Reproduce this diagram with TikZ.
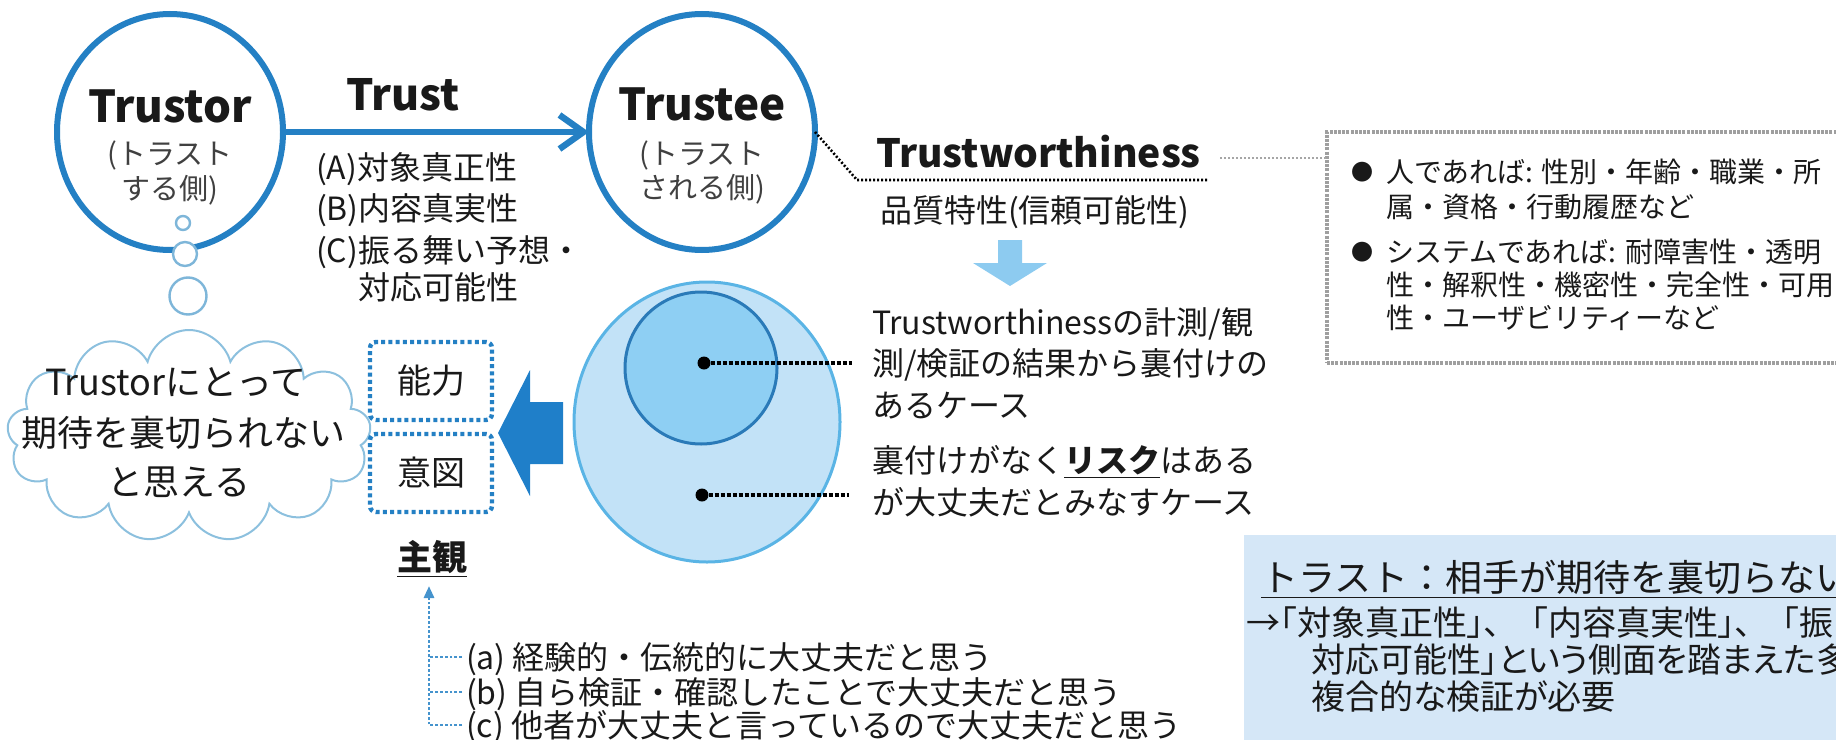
\documentclass[tikz,border=0pt]{standalone}
\usepackage{fontspec}
\setmainfont{Noto Sans CJK JP}
\newfontfamily\jpprop{Noto Sans CJK JP}[RawFeature=+palt]
\usetikzlibrary{shapes.symbols,shapes.geometric,arrows.meta}
\definecolor{dblue}{RGB}{36,128,196}
\definecolor{bubblec}{RGB}{126,182,217}
\definecolor{cloudc}{RGB}{140,192,222}
\definecolor{lblue}{RGB}{141,203,240}
\definecolor{outerfill}{RGB}{194,226,247}
\definecolor{outerdraw}{RGB}{90,180,229}
\definecolor{innerfill}{RGB}{142,207,243}
\definecolor{innerdraw}{RGB}{42,122,184}
\definecolor{bigarrow}{RGB}{31,127,201}
\definecolor{boxfill}{RGB}{213,231,247}
\definecolor{txt}{RGB}{25,25,25}
\definecolor{subtxt}{RGB}{64,64,64}
\begin{document}
\tikzset{
  every node/.style={inner sep=0pt, outer sep=0pt, text=txt},
  fs/.code={\pgfmathsetmacro\fsh{0.88*#1}\pgfmathsetmacro\fsd{0.12*#1}%
    \edef\fstmp{\noexpand\tikzset{font=\noexpand\fontsize{#1}{#1}\noexpand\selectfont, text height=\fsh pt, text depth=\fsd pt}}\fstmp},
  fsp/.code={\pgfmathsetmacro\fsh{0.88*#1}\pgfmathsetmacro\fsd{0.12*#1}%
    \edef\fstmp{\noexpand\tikzset{font=\noexpand\jpprop\noexpand\fontsize{#1}{#1}\noexpand\selectfont, text height=\fsh pt, text depth=\fsd pt}}\fstmp},
  fsb/.code={\pgfmathsetmacro\fsh{0.88*#1}\pgfmathsetmacro\fsd{0.12*#1}%
    \edef\fstmp{\noexpand\tikzset{font=\noexpand\fontsize{#1}{#1}\noexpand\selectfont\noexpand\bfseries, text height=\fsh pt, text depth=\fsd pt}}\fstmp},
  title/.style={font=\fontsize{22}{22}\selectfont\bfseries, anchor=base},
  actor/.style={ellipse, draw=dblue, line width=3pt, fill=white, minimum width=113pt, minimum height=118pt},
  bubble/.style={circle, draw=bubblec, line width=1.2pt, fill=white, minimum size=#1},
  capbox/.style={draw=dblue, line width=2.2pt, dash pattern=on 2pt off 1.6pt, rounded corners=3pt, fill=white, minimum width=61pt, minimum height=39pt, fs=17},
  leader/.style={draw=black, line width=1.6pt, dash pattern=on 2pt off 1pt},
  thindot/.style={draw=black, line width=1.3pt, dash pattern=on 1pt off 1pt},
  greydot/.style={draw=gray!70, line width=1.2pt, dash pattern=on 1pt off 1pt},
  greybox/.style={draw=gray!75, line width=2.2pt, dash pattern=on 1.5pt off 0.6pt},
  subline/.style={draw=dblue!85, line width=1.4pt, dash pattern=on 1.4pt off 1pt},
  dotmark/.style={circle, fill=black, minimum size=6.5pt},
}
\begin{tikzpicture}[x=0.5pt,y=-0.5pt]
\useasboundingbox (0,0) rectangle (1836,739);
\clip (0,0) rectangle (1836,739);

% ---- Trustor / Trustee
\node[actor] (trustor) at (170,132) {};
\node[actor] (trustee) at (702,132) {};
\node[title] (trustorT) at (170,122) {Trustor};
\node[fs=14.5, text=subtxt] (trustorS1) at (170,153) {(トラスト};
\node[fs=14.5, text=subtxt] (trustorS2) at (170,188) {する側)};
\node[title] (trusteeT) at (702,120) {Trustee};
\node[fs=14.5, text=subtxt] (trusteeS1) at (702,153) {(トラスト};
\node[fs=14.5, text=subtxt] (trusteeS2) at (702,187) {される側)};

% bubbles
\node[bubble=7pt] (b1) at (183,223) {};
\node[bubble=12pt] (b2) at (185,254) {};
\node[bubble=18.5pt] (b3) at (188,296) {};

% Trust arrow
\draw[dblue, line width=3.2pt, -{Straight Barb[length=12pt,width=17pt]}] (trustor.east) -- (trustee.west);
\node[title, font=\fontsize{21.5}{21.5}\selectfont\bfseries] (trustT) at (403,110) {Trust};
\node[fs=16, anchor=west] (ta) at (316,167) {(A)対象真正性};
\node[fs=16, anchor=west] (tb) at (316,208) {(B)内容真実性};
\node[fs=16, anchor=west] (tc) at (316,250) {(C)振る舞い予想・};
\node[fs=16, anchor=west] (td) at (358,287) {対応可能性};

% Trustworthiness
\node[font=\fontsize{19.5}{19.5}\selectfont\bfseries, anchor=base west] (tw) at (876,167) {Trustworthiness};
\coordinate (twbend) at (857,180);
\coordinate (twend) at (1209,180);
\draw[thindot] (trustee.east) -- (twbend) -- (twend);
\node[fs=16, anchor=west] (quality) at (880,210) {品質特性(信頼可能性)};
\fill[lblue] (998,240) -- (1022,240) -- (1022,263) -- (1047,263) -- (1010,286) -- (973,263) -- (998,263) -- cycle;

% grey attribute box
\node[greybox, anchor=north west, minimum width=287pt, minimum height=115.5pt] (attrbox) at (1327,132) {};
\draw[greydot] (1220,158) -- (attrbox.west |- 0,158);
\node[fs=11, anchor=center] (bul1) at (1362,172) {●};
\node[fs=14, anchor=west] (a1) at (1386,172) {人であれば: 性別・年齢・職業・所};
\node[fs=14, anchor=west] (a2) at (1386,207) {属・資格・行動履歴など};
\node[fs=11, anchor=center] (bul2) at (1362,252) {●};
\node[fs=14, anchor=west] (a3) at (1386,252) {システムであれば: 耐障害性・透明};
\node[fs=14, anchor=west] (a4) at (1386,285) {性・解釈性・機密性・完全性・可用};
\node[fs=14, anchor=west] (a5) at (1386,318) {性・ユーザビリティーなど};

% ellipses
\node[ellipse, draw=outerdraw, fill=outerfill, line width=1.5pt, minimum width=133pt, minimum height=140pt] (outer) at (707,422) {};
\node[circle, draw=innerdraw, fill=innerfill, line width=1.5pt, minimum size=76pt] (inner) at (701,368) {};
\node[dotmark] (d1) at (704,363) {};
\node[dotmark] (d2) at (702,495) {};
\coordinate (l1) at (852,363);
\coordinate (l2) at (849,495);
\draw[leader] (d1) -- (l1);
\draw[leader] (d2) -- (l2);
\node[fs=16, anchor=west] (r1) at (872,322) {Trustworthinessの計測/観};
\node[fs=16, anchor=west] (r2) at (872,363) {測/検証の結果から裏付けの};
\node[fs=16, anchor=west] (r3) at (872,405) {あるケース};
\node[fs=16, anchor=west] (r4) at (872,460) {裏付けがなく\underline{\textbf{リスク}}はある};
\node[fs=16, anchor=west] (r5) at (872,502) {が大丈夫だとみなすケース};

% big arrow to abilities
\fill[bigarrow] (563,402) -- (530,402) -- (530,370) -- (498,433) -- (530,496) -- (530,464) -- (563,464) -- cycle;

% cloud
\node[cloud, cloud puffs=13, cloud ignores aspect, draw=cloudc, line width=1pt, fill=white, minimum width=182pt, minimum height=106pt] (cloud) at (189,436) {};
\node[fs=18] (c1) at (176,382) {Trustorにとって};
\node[fs=18] (c2) at (183,433) {期待を裏切られない};
\node[fs=18] (c3) at (179,482) {と思える};

% ability / intention
\node[capbox] (nouryoku) at (431,381) {能力};
\node[capbox] (ito) at (431,473) {意図};

% subjective
\node[fsb=17.5] (shukan) at (432,557) {\underline{主観}};
\coordinate (shtip) at (429,586);
\node[fs=16, anchor=west] (sa) at (466,657) {(a) 経験的・伝統的に大丈夫だと思う};
\node[fs=16, anchor=west] (sb) at (466,692) {(b) 自ら検証・確認したことで大丈夫だと思う};
\node[fs=16, anchor=west] (sc) at (466,725) {(c) 他者が大丈夫と言っているので大丈夫だと思う};
\draw[subline, -{Triangle[length=6pt,width=5pt]}] ([xshift=-2pt]sc.west) -| (shtip);
\draw[subline] ([xshift=-2pt]sa.west) -- (sa.west -| shtip);
\draw[subline] ([xshift=-2pt]sb.west) -- (sb.west -| shtip);

% summary box
\node[fill=boxfill, anchor=north west, minimum width=310pt, minimum height=110pt] (summary) at (1244,535) {};
\node[fs=18.5, anchor=west] (s1) at (1261,577) {\underline{トラスト：相手が期待を裏切らない}};
\node[fsp=17, anchor=west] (s2) at (1246,623) {→「対象真正性」、\hspace{15pt}「内容真実性」、\hspace{15pt}「振};
\node[fsp=17, anchor=west] (s3) at (1311,660) {対応可能性」という側面を踏まえた多};
\node[fsp=17, anchor=west] (s4) at (1311,697) {複合的な検証が必要};
\end{tikzpicture}
\end{document}
